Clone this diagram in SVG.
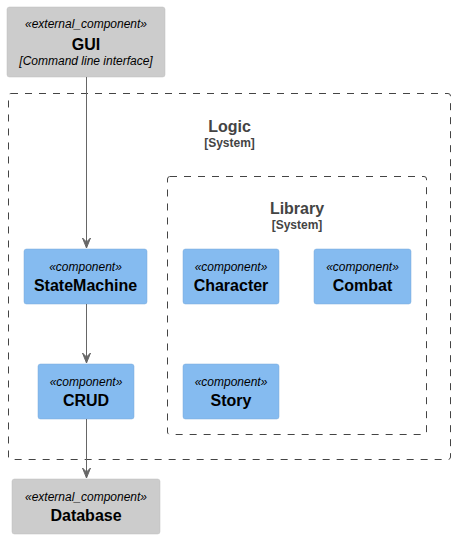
<svg xmlns="http://www.w3.org/2000/svg" width="455" height="539" viewBox="0 0 455 539">
<style>
text{font-family:"Liberation Sans",Arial,sans-serif;text-anchor:middle}
.st{font-size:12px;font-style:italic}
.nm{font-size:16px;font-weight:bold}
.ds{font-size:12px;font-style:italic}
.ext{fill:#CCCCCC;stroke:#BFBFBF;stroke-width:0.5}
.cmp{fill:#85BBF0;stroke:#78A8D8;stroke-width:0.5}
.bnd{fill:none;stroke:#444444;stroke-dasharray:7,7;stroke-width:1}
.bt{font-size:16px;font-weight:bold;fill:#444444}
.bs{font-size:12px;font-weight:bold;fill:#444444}
.ln{stroke:#666666;stroke-width:1;fill:none}
</style>
<defs>
<marker id="ah" viewBox="0 0 10 10" refX="10" refY="5" markerWidth="10" markerHeight="10" markerUnits="userSpaceOnUse" orient="auto">
<path d="M0,1 L10,5 L0,9 L4,5 Z" fill="#666666" stroke="#666666" stroke-width="1"/>
</marker>
</defs>
<g id="Logic">
<rect class="bnd" x="8.5" y="93.5" width="442" height="366" rx="2.5"/>
<text class="bt" x="229.5" y="132">Logic</text>
<text class="bs" x="229.5" y="147">[System]</text>
</g>
<g id="Library">
<rect class="bnd" x="167.5" y="176.5" width="259" height="258" rx="2.5"/>
<text class="bt" x="297" y="214">Library</text>
<text class="bs" x="297" y="229">[System]</text>
</g>
<g id="GUI">
<rect class="ext" x="7" y="7" width="158" height="70" rx="2.5"/>
<text class="st" x="86" y="28">«external_component»</text>
<text class="nm" x="86" y="50">GUI</text>
<text class="ds" x="86" y="65">[Command line interface]</text>
</g>
<g id="StateMachine">
<rect class="cmp" x="24" y="249" width="123" height="55" rx="2.5"/>
<text class="st" x="85.5" y="271">«component»</text>
<text class="nm" x="85.5" y="291">StateMachine</text>
</g>
<g id="CRUD">
<rect class="cmp" x="38" y="364" width="96" height="55" rx="2.5"/>
<text class="st" x="86" y="386">«component»</text>
<text class="nm" x="86" y="406">CRUD</text>
</g>
<g id="Character">
<rect class="cmp" x="183" y="249" width="96" height="55" rx="2.5"/>
<text class="st" x="231" y="271">«component»</text>
<text class="nm" x="231" y="291">Character</text>
</g>
<g id="Combat">
<rect class="cmp" x="314" y="249" width="97" height="55" rx="2.5"/>
<text class="st" x="362.5" y="271">«component»</text>
<text class="nm" x="362.5" y="291">Combat</text>
</g>
<g id="Story">
<rect class="cmp" x="183" y="364" width="96" height="55" rx="2.5"/>
<text class="st" x="231" y="386">«component»</text>
<text class="nm" x="231" y="406">Story</text>
</g>
<g id="Database">
<rect class="ext" x="12" y="479" width="148" height="55" rx="2.5"/>
<text class="st" x="86" y="501">«external_component»</text>
<text class="nm" x="86" y="521">Database</text>
</g>
<g id="connectors">
<line class="ln" x1="86.5" y1="77" x2="86.5" y2="248" marker-end="url(#ah)"/>
<line class="ln" x1="86.5" y1="304" x2="86.5" y2="363" marker-end="url(#ah)"/>
<line class="ln" x1="86.5" y1="419" x2="86.5" y2="478" marker-end="url(#ah)"/>
</g>
</svg>
